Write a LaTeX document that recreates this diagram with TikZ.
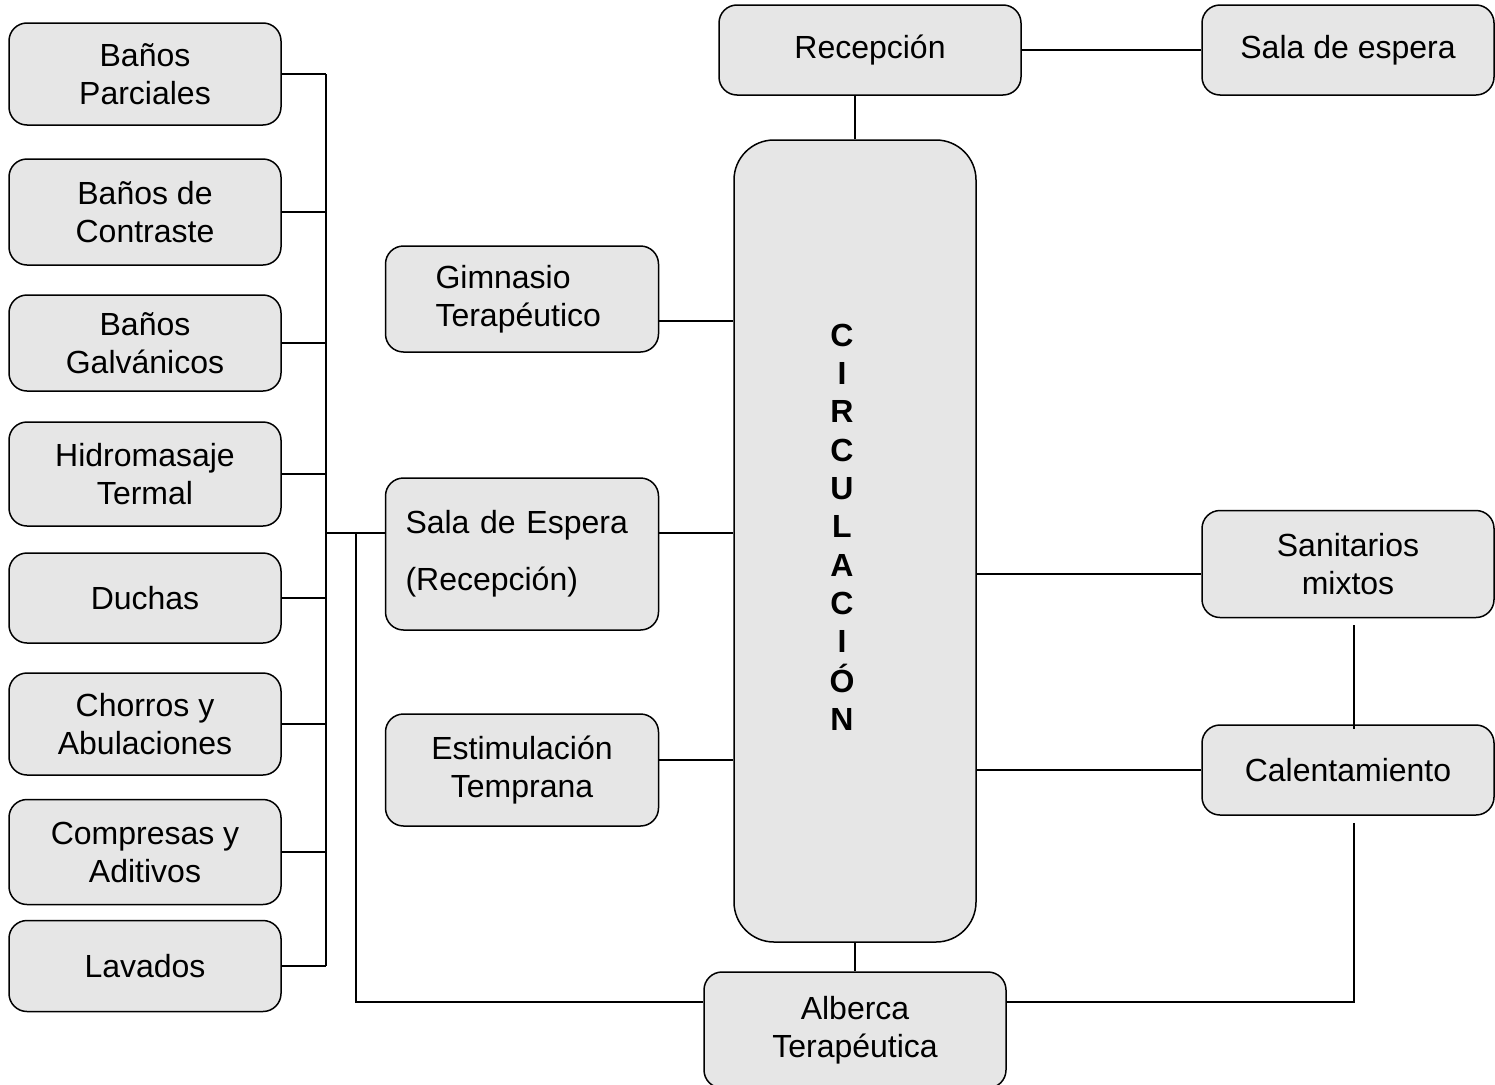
\documentclass[tikz,border=0pt]{standalone}
\usepackage{fontspec}
\setmainfont{Liberation Sans}
\definecolor{roomgray}{RGB}{230,230,230}
\begin{document}
\begin{tikzpicture}[x=1pt, y=-1pt, line width=1.5pt,
		room/.style={draw, fill=roomgray, rounded corners=18pt, align=center, inner sep=0pt, font=\fontsize{32}{38}\selectfont},
		leftroom/.style={room, minimum width=272pt}]
		\useasboundingbox (0,0) rectangle (1495,1084);
		\node[leftroom, minimum height=102pt] (parciales) at (145,74) {Baños\\Parciales};
		\node[leftroom, minimum height=106pt] (contraste) at (145,212) {Baños de\\Contraste};
		\node[leftroom, minimum height=96pt] (galvanicos) at (145,343) {Baños\\Galvánicos};
		\node[leftroom, minimum height=104pt] (hidro) at (145,474) {Hidromasaje\\Termal};
		\node[leftroom, minimum height=90pt] (duchas) at (145,598) {Duchas};
		\node[leftroom, minimum height=102pt] (chorros) at (145,724) {Chorros y\\Abulaciones};
		\node[leftroom, minimum height=105pt] (compresas) at (145,852) {Compresas y\\Aditivos};
		\node[leftroom, minimum height=91pt] (lavados) at (145,966) {Lavados};
		
		\node[room, align=left, inner xsep=50pt, text width=173pt, minimum height=106pt] (gimnasio) at (522,299) {Gimnasio\\Terapéutico};
		\node[room, align=left, inner xsep=20pt, text width=233pt, minimum height=152pt] (salaesp) at (522,554) {Sala de Espera\\[19pt](Recepción)};
		\node[room, minimum width=273pt, minimum height=112pt] (estim) at (522,770) {Estimulación\\Temprana};
		
		\node[room, rounded corners=40pt, minimum width=242pt, minimum height=802pt, font=\fontsize{32}{38.3}\selectfont\bfseries] (circ) at (855,541)
			{\begin{tabular}{@{}c@{\hspace{26pt}}}C\\I\\R\\C\\U\\L\\A\\C\\I\\Ó\\N\\[20pt]\end{tabular}};
		\node[room, minimum width=302pt, minimum height=90pt] (recep) at (870,50) {Recepción};
		\node[room, minimum width=302pt, minimum height=116pt] (alberca) at (855,1030) {Alberca\\Terapéutica};
		
		\node[room, minimum width=292pt, minimum height=90pt] (espera) at (1348,50) {Sala de espera};
		\node[room, minimum width=292pt, minimum height=107pt] (sanit) at (1348,564) {Sanitarios\\mixtos};
		\node[room, minimum width=292pt, minimum height=90pt] (calent) at (1348,770) {Calentamiento};
		
		\coordinate (bus) at (326,0);
		\coordinate (drop) at (356,0);
		\coordinate (riser) at (1354,0);
		
		\foreach \r in {parciales,contraste,galvanicos,hidro,duchas,chorros,compresas,lavados}
			\draw (\r.east) -- (\r.east -| bus);
		\draw (parciales.east -| bus) -- (lavados.east -| bus);
		\draw ([yshift=21pt]salaesp.west) -- ([yshift=21pt]salaesp.west -| bus);
		\draw ([yshift=21pt]salaesp.west -| drop) -- ([yshift=28pt]alberca.west -| drop) -- ([yshift=28pt]alberca.west);
		
		\draw ([yshift=-22pt]gimnasio.east) -- ([yshift=-22pt]gimnasio.east -| circ.west);
		\draw ([yshift=21pt]salaesp.east) -- ([yshift=21pt]salaesp.east -| circ.west);
		\draw ([yshift=10pt]estim.east) -- ([yshift=10pt]estim.east -| circ.west);
		
		\draw (circ.north) -- (circ.north |- recep.south);
		\draw (circ.south) -- (circ.south |- alberca.north);
		\draw (recep.east) -- (espera.west);
		\draw ([yshift=-10pt]sanit.west -| circ.east) -- ([yshift=-10pt]sanit.west);
		\draw (calent.west -| circ.east) -- (calent.west);
		\draw ([yshift=-7pt]sanit.south -| riser) -- ([yshift=-5pt]calent.north -| riser);
		\draw ([yshift=-7pt]calent.south -| riser) -- ([yshift=28pt]alberca.east -| riser) -- ([yshift=28pt]alberca.east);
	\end{tikzpicture}
\end{document}
